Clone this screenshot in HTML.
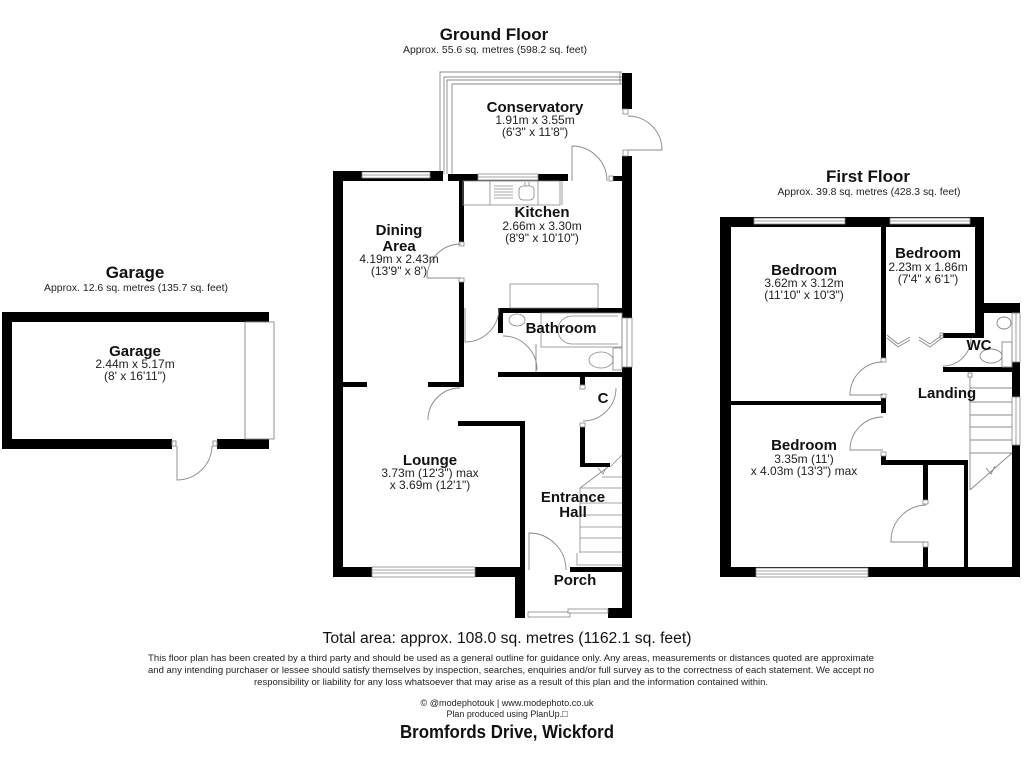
<!DOCTYPE html>
<html><head><meta charset="utf-8"><style>
html,body{margin:0;padding:0;background:#fff;}
svg{display:block;}
text{font-family:"Liberation Sans",Arial,sans-serif;fill:#111;}
.t{font-weight:bold;font-size:15px;text-anchor:middle;}
.h{font-weight:bold;font-size:17px;text-anchor:middle;}
.d{font-size:12px;text-anchor:middle;fill:#222;}
.s{font-size:10.4px;text-anchor:middle;fill:#222;}
.f{font-size:9.6px;text-anchor:middle;fill:#222;}
</style></head><body>
<svg width="1024" height="768" viewBox="0 0 1024 768" xmlns="http://www.w3.org/2000/svg">
<rect width="1024" height="768" fill="#fff"/>

<!-- ================= GARAGE ================= -->
<g fill="#000">
<rect x="2" y="312" width="267" height="10"/>
<rect x="2" y="312" width="10" height="137"/>
<rect x="2" y="439" width="170" height="10"/>
<rect x="217" y="439" width="52" height="10"/>
</g>
<g fill="none" stroke="#888" stroke-width="0.9">
<rect x="245" y="322" width="29" height="117" fill="#fff"/>
<rect x="172" y="441" width="4" height="5" fill="#fff"/>
<rect x="213" y="441" width="4" height="5" fill="#fff"/>
<path d="M177,446 V480 A35,35 0 0 0 212,446"/>
</g>

<!-- ================= GROUND FLOOR ================= -->
<!-- conservatory frame -->
<g fill="none" stroke="#888" stroke-width="0.9">
<path d="M622,72 H440 V174"/>
<path d="M622,77 H444 V174"/>
<path d="M622,80 H447 V174"/>
<path d="M622,84 H452 V174"/>
<line x1="620" y1="72" x2="620" y2="84"/>
</g>
<g fill="#000">
<!-- left wall -->
<rect x="333" y="171" width="10" height="406"/>
<!-- dining top -->
<rect x="333" y="171" width="110" height="10"/>
<!-- kitchen top -->
<rect x="448" y="174" width="120" height="7"/>
<rect x="613" y="176" width="10" height="5"/>
<!-- right wall -->
<rect x="622" y="73" width="10" height="36"/>
<rect x="622" y="156" width="10" height="462"/>
<!-- kitchen/dining wall -->
<rect x="459" y="181" width="5" height="61"/>
<rect x="459" y="282" width="5" height="105"/>
<!-- dining/lounge divider -->
<rect x="343" y="382" width="24" height="5"/>
<rect x="428" y="382" width="36" height="5"/>
<!-- lounge right wall -->
<rect x="458" y="421" width="67" height="5"/>
<rect x="520" y="421" width="5" height="150"/>
<!-- lounge bottom -->
<rect x="333" y="567" width="192" height="10"/>
<!-- porch -->
<rect x="515" y="567" width="10" height="51"/>
<rect x="515" y="608" width="117" height="10"/>
<rect x="570" y="567" width="52" height="5"/>
<!-- bathroom -->
<rect x="498" y="308" width="124" height="5"/>
<rect x="498" y="308" width="5" height="25"/>
<rect x="498" y="372" width="124" height="5"/>
<rect x="580" y="377" width="5" height="8"/>
<!-- cupboard -->
<rect x="580" y="427" width="5" height="40"/>
<rect x="580" y="463" width="30" height="4"/>
</g>
<!-- windows ground -->
<g fill="#fff" stroke="#888" stroke-width="0.8">
<rect x="362" y="172" width="68" height="6"/>
<line x1="362" y1="175" x2="430" y2="175"/>
<rect x="478" y="174" width="60" height="6"/>
<line x1="478" y1="177" x2="538" y2="177"/>
<rect x="372" y="567" width="103" height="10"/>
<line x1="372" y1="570" x2="475" y2="570"/>
<line x1="372" y1="573" x2="475" y2="573"/>
<rect x="525" y="608" width="83" height="10" stroke="none"/>
<rect x="528" y="612" width="42" height="5"/>
<rect x="568" y="609" width="40" height="4"/>
<rect x="622" y="318" width="10" height="49"/>
<line x1="627" y1="318" x2="627" y2="367"/>
<rect x="609" y="176" width="4" height="5"/>
<rect x="623" y="109" width="5" height="5"/>
<rect x="623" y="150" width="5" height="6"/>
<rect x="459" y="242" width="5" height="4"/>
<rect x="459" y="278" width="5" height="4"/>
<rect x="580" y="385" width="5" height="4"/>
<rect x="580" y="423" width="5" height="4"/>
</g>
<!-- doors ground -->
<g fill="none" stroke="#888" stroke-width="0.9">
<path d="M628,116 A34,34 0 0 1 662,150 H628"/>
<path d="M572,146 V181 M572,146 A35,35 0 0 1 607,181"/>
<path d="M427,278 H461 M427,278 A34,34 0 0 1 461,244"/>
<path d="M465,308 V342 M465,342 A34,34 0 0 0 499,308"/>
<path d="M503,336 A34,34 0 0 1 537,370 M536,344 V372"/>
<path d="M428,420 A32,32 0 0 1 460,388"/>
<path d="M529,570 V533 A37,37 0 0 1 566,570"/>
<path d="M616,388 A33,33 0 0 1 583,421"/>
</g>
<!-- kitchen fittings -->
<g fill="none" stroke="#888" stroke-width="0.8">
<rect x="463" y="181" width="97" height="24"/>
<line x1="562" y1="181" x2="562" y2="205"/>
<line x1="490" y1="181" x2="490" y2="205"/>
<line x1="538" y1="181" x2="538" y2="205"/>
<line x1="494" y1="186" x2="513" y2="186"/>
<line x1="494" y1="189" x2="513" y2="189"/>
<line x1="494" y1="192" x2="513" y2="192"/>
<line x1="494" y1="195" x2="513" y2="195"/>
<line x1="494" y1="198" x2="513" y2="198"/>
<rect x="519" y="186" width="15" height="14" rx="4"/>
<line x1="525" y1="182" x2="525" y2="186"/>
<line x1="529" y1="182" x2="529" y2="186"/>
<rect x="510" y="284" width="88" height="24"/>
<!-- bathroom -->
<rect x="541" y="313" width="81" height="34"/>
<path d="M618,316 H572 A14,14 0 0 0 572,344 H618"/>
<ellipse cx="517" cy="320" rx="8" ry="6"/>
<rect x="613" y="348" width="9" height="22"/>
<ellipse cx="601" cy="360" rx="12" ry="8"/>
</g>
<!-- stairs ground -->
<g fill="none" stroke="#888" stroke-width="0.8">
<line x1="580" y1="488" x2="580" y2="553"/>
<line x1="580" y1="488" x2="622" y2="488"/>
<line x1="580" y1="503" x2="622" y2="503"/>
<line x1="580" y1="515" x2="622" y2="515"/>
<line x1="580" y1="527" x2="622" y2="527"/>
<line x1="580" y1="538" x2="622" y2="538"/>
<line x1="580" y1="552" x2="622" y2="552"/>
<path d="M577,553 V565 H622"/>
<line x1="580" y1="488" x2="608" y2="467"/>
<line x1="602" y1="477" x2="622" y2="477"/>
<line x1="610" y1="467" x2="622" y2="455"/>
<path d="M598,468 L603,474 L606,468"/>
</g>

<!-- ================= FIRST FLOOR ================= -->
<g fill="#000">
<rect x="720" y="217" width="264" height="10"/>
<rect x="720" y="217" width="11" height="360"/>
<rect x="720" y="567" width="300" height="10"/>
<rect x="881" y="227" width="5" height="131"/>
<rect x="975" y="217" width="9" height="121"/>
<rect x="943" y="333" width="41" height="5"/>
<rect x="983" y="303" width="37" height="10"/>
<rect x="1012" y="303" width="8" height="274"/>
<rect x="943" y="367" width="69" height="5"/>
<rect x="731" y="401" width="155" height="4"/>
<rect x="881" y="398" width="5" height="15"/>
<rect x="881" y="456" width="5" height="9"/>
<rect x="881" y="460" width="87" height="5"/>
<rect x="923" y="465" width="5" height="35"/>
<rect x="923" y="547" width="5" height="20"/>
<rect x="964" y="460" width="4" height="107"/>
</g>
<g fill="#fff" stroke="#888" stroke-width="0.8">
<rect x="754" y="218" width="91" height="6"/>
<line x1="754" y1="221" x2="845" y2="221"/>
<rect x="890" y="218" width="80" height="6"/>
<line x1="890" y1="221" x2="970" y2="221"/>
<rect x="756" y="568" width="112" height="9"/>
<line x1="756" y1="571" x2="868" y2="571"/>
<line x1="756" y1="574" x2="868" y2="574"/>
<rect x="1012" y="313" width="8" height="49"/>
<line x1="1016" y1="313" x2="1016" y2="362"/>
<rect x="1012" y="397" width="8" height="48"/>
<line x1="1016" y1="397" x2="1016" y2="445"/>
<rect x="881" y="358" width="5" height="4"/>
<rect x="881" y="394" width="5" height="4"/>
<rect x="881" y="452" width="5" height="4"/>
<rect x="923" y="500" width="5" height="4"/>
<rect x="923" y="542" width="5" height="5"/>
<rect x="940" y="333" width="3" height="5"/>
</g>
<g fill="none" stroke="#888" stroke-width="0.9">
<path d="M883,362 A33,33 0 0 0 850,395 H883"/>
<path d="M883,417 A33,33 0 0 0 850,450 H883"/>
<path d="M926,505 A36,36 0 0 0 891,542 H926"/>
<path d="M971,338 A28,28 0 0 1 943,366"/>
<!-- bifold -->
<path d="M887,335 L898,344 L910,337"/>
<path d="M887,338 L898,347 L910,340"/>
<path d="M919,337 L930,344 L942,335"/>
<path d="M919,340 L930,347 L942,338"/>
<!-- WC fittings -->
<ellipse cx="1004" cy="323" rx="7" ry="6"/>
<rect x="1002" y="342" width="10" height="25"/>
<ellipse cx="991" cy="356" rx="11" ry="7"/>
<!-- stairs first -->
<rect x="968" y="373" width="4" height="4" fill="#fff"/>
<line x1="970" y1="377" x2="970" y2="490"/>
<line x1="970" y1="388" x2="1012" y2="388"/>
<line x1="970" y1="402" x2="1012" y2="402"/>
<line x1="970" y1="415" x2="1012" y2="415"/>
<line x1="970" y1="427" x2="1012" y2="427"/>
<line x1="970" y1="440" x2="1012" y2="440"/>
<line x1="970" y1="453" x2="1012" y2="453"/>
<line x1="970" y1="490" x2="1012" y2="453"/>
<path d="M986,468 L991,474 L995,466"/>
</g>

<!-- ================= TEXT ================= -->
<text class="h" x="135" y="278">Garage</text>
<text class="s" x="136" y="291" textLength="184" lengthAdjust="spacingAndGlyphs">Approx. 12.6 sq. metres (135.7 sq. feet)</text>
<text class="t" x="135" y="356">Garage</text>
<text class="d" x="135" y="368">2.44m x 5.17m</text>
<text class="d" x="135" y="380">(8' x 16'11")</text>

<text class="h" x="494" y="40">Ground Floor</text>
<text class="s" x="495" y="53" textLength="184" lengthAdjust="spacingAndGlyphs">Approx. 55.6 sq. metres (598.2 sq. feet)</text>

<text class="t" x="535" y="112">Conservatory</text>
<text class="d" x="535" y="124">1.91m x 3.55m</text>
<text class="d" x="535" y="136">(6'3" x 11'8")</text>

<text class="t" x="542" y="217">Kitchen</text>
<text class="d" x="542" y="230">2.66m x 3.30m</text>
<text class="d" x="542" y="242">(8'9" x 10'10")</text>

<text class="t" x="399" y="235">Dining</text>
<text class="t" x="399" y="251">Area</text>
<text class="d" x="399" y="263">4.19m x 2.43m</text>
<text class="d" x="399" y="275">(13'9" x 8')</text>

<text class="t" x="561" y="333">Bathroom</text>

<text class="t" x="603" y="403">C</text>

<text class="t" x="430" y="465">Lounge</text>
<text class="d" x="430" y="477">3.73m (12'3") max</text>
<text class="d" x="430" y="489">x 3.69m (12'1")</text>

<text class="t" x="573" y="502">Entrance</text>
<text class="t" x="573" y="517">Hall</text>
<text class="t" x="575" y="585">Porch</text>

<text class="h" x="868" y="182">First Floor</text>
<text class="s" x="869" y="195" textLength="183" lengthAdjust="spacingAndGlyphs">Approx. 39.8 sq. metres (428.3 sq. feet)</text>

<text class="t" x="804" y="275">Bedroom</text>
<text class="d" x="804" y="287">3.62m x 3.12m</text>
<text class="d" x="804" y="299">(11'10" x 10'3")</text>

<text class="t" x="928" y="258">Bedroom</text>
<text class="d" x="928" y="271">2.23m x 1.86m</text>
<text class="d" x="928" y="283">(7'4" x 6'1")</text>

<text class="t" x="979" y="350">WC</text>
<text class="t" x="947" y="398">Landing</text>

<text class="t" x="804" y="450">Bedroom</text>
<text class="d" x="804" y="463">3.35m (11')</text>
<text class="d" x="804" y="475">x 4.03m (13'3") max</text>

<!-- footer -->
<text x="507" y="643" style="font-size:15.5px;text-anchor:middle" textLength="369" lengthAdjust="spacingAndGlyphs">Total area: approx. 108.0 sq. metres (1162.1 sq. feet)</text>
<text class="f" x="511" y="661" textLength="726" lengthAdjust="spacingAndGlyphs">This floor plan has been created by a third party and should be used as a general outline for guidance only. Any areas, measurements or distances quoted are approximate</text>
<text class="f" x="511" y="673" textLength="726" lengthAdjust="spacingAndGlyphs">and any intending purchaser or lessee should satisfy themselves by inspection, searches, enquiries and/or full survey as to the correctness of each statement. We accept no</text>
<text class="f" x="511" y="685" textLength="514" lengthAdjust="spacingAndGlyphs">responsibility or liability for any loss whatsoever that may arise as a result of this plan and the information contained within.</text>
<text class="f" x="507" y="706" textLength="173" lengthAdjust="spacingAndGlyphs">© @modephotouk | www.modephoto.co.uk</text>
<text class="f" x="507" y="717" textLength="121" lengthAdjust="spacingAndGlyphs">Plan produced using PlanUp.□</text>
<text x="507" y="738" style="font-size:18px;font-weight:bold;text-anchor:middle" textLength="214" lengthAdjust="spacingAndGlyphs">Bromfords Drive, Wickford</text>
</svg>
</body></html>
